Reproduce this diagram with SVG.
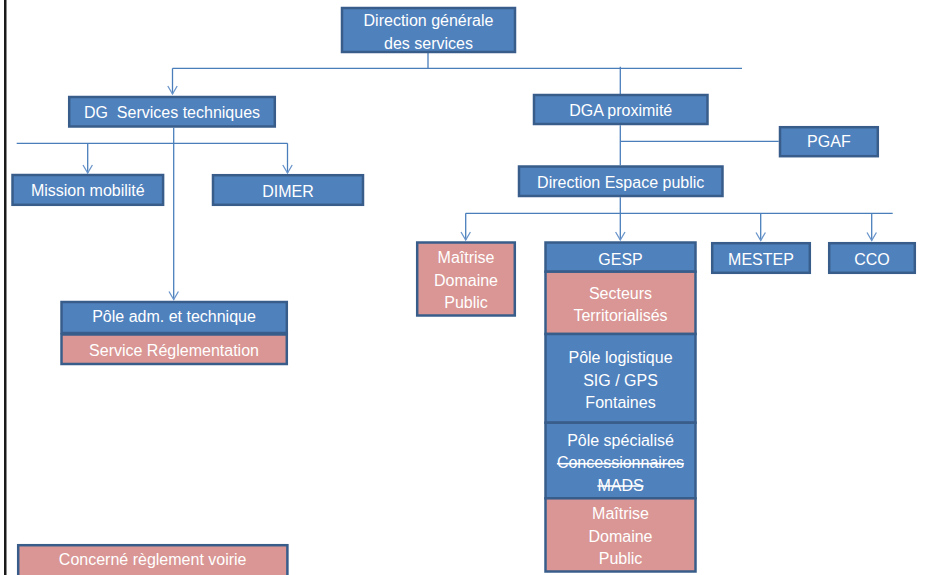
<svg xmlns="http://www.w3.org/2000/svg" width="952" height="575" viewBox="0 0 952 575">
<defs>
<style>
.b{fill:#4F81BD;stroke:#385D8A;stroke-width:2.5}
.p{fill:#D99694;stroke:#385D8A;stroke-width:2.5}
text{font-family:"Liberation Sans",Arial,sans-serif;font-size:16px;fill:#FFFFFF;text-anchor:middle}
.s{text-decoration:line-through}
.c{stroke:#4A7EBB;stroke-width:1.3;fill:none}
</style>
<marker id="ar" markerUnits="userSpaceOnUse" markerWidth="12" markerHeight="12" viewBox="-10 -6 12 12" refX="0" refY="0" orient="auto" overflow="visible">
<path d="M-8,-4.7 L0,0 L-8,4.7" fill="none" stroke="#6A95CB" stroke-width="1.3"/>
</marker>
</defs>
<rect width="952" height="575" fill="#FFFFFF"/>
<rect x="4" y="0" width="2.5" height="575" fill="#1A1A1A"/>
<g id="connectors">
<line class="c" x1="428" y1="52.7" x2="428" y2="68.3"/>
<line class="c" x1="172.5" y1="68.3" x2="742" y2="68.3"/>
<line class="c" x1="172.5" y1="68.3" x2="172.5" y2="94" marker-end="url(#ar)"/>
<line class="c" x1="620.3" y1="66.7" x2="620.3" y2="94"/>
<line class="c" x1="173.7" y1="127.7" x2="173.7" y2="299.5" marker-end="url(#ar)"/>
<line class="c" x1="16.7" y1="143.3" x2="287.5" y2="143.3"/>
<line class="c" x1="87.7" y1="143.3" x2="87.7" y2="173" marker-end="url(#ar)"/>
<line class="c" x1="287.5" y1="143.3" x2="287.5" y2="173" marker-end="url(#ar)"/>
<line class="c" x1="620.3" y1="125.3" x2="620.3" y2="165.3"/>
<line class="c" x1="620.3" y1="141.3" x2="778.7" y2="141.3"/>
<line class="c" x1="620.3" y1="197.3" x2="620.3" y2="240" marker-end="url(#ar)"/>
<line class="c" x1="465.7" y1="213.3" x2="892.7" y2="213.3"/>
<line class="c" x1="465.7" y1="213.3" x2="465.7" y2="240" marker-end="url(#ar)"/>
<line class="c" x1="760.7" y1="213.3" x2="760.7" y2="240.5" marker-end="url(#ar)"/>
<line class="c" x1="871.7" y1="213.3" x2="871.7" y2="240.5" marker-end="url(#ar)"/>
</g>
<g id="dgs">
<rect class="b" x="342" y="8" width="173" height="44"/>
<text x="428.5" y="25.7">Direction générale</text>
<text x="428.5" y="48.8">des services</text>
</g>
<g id="dgst">
<rect class="b" x="69.2" y="97" width="205.6" height="29.5"/>
<text x="172" y="118.2" xml:space="preserve">DG  Services techniques</text>
</g>
<g id="mission">
<rect class="b" x="12.5" y="175" width="150.6" height="29.8"/>
<text x="87.8" y="195.6">Mission mobilité</text>
</g>
<g id="dimer">
<rect class="b" x="213" y="175.2" width="150" height="29.6"/>
<text x="288" y="196.5">DIMER</text>
</g>
<g id="pole-adm">
<rect class="b" x="61.5" y="302" width="225.3" height="31"/>
<text x="174" y="322.4">Pôle adm. et technique</text>
<rect class="p" x="61.5" y="334.5" width="225.3" height="29.5"/>
<text x="174" y="355.8">Service Réglementation</text>
</g>
<g id="concerne">
<rect class="p" x="18.2" y="545.2" width="269.2" height="40"/>
<text x="152.7" y="565">Concerné règlement voirie</text>
</g>
<g id="dga">
<rect class="b" x="534" y="95" width="173.5" height="29"/>
<text x="620.7" y="115.6">DGA proximité</text>
</g>
<g id="pgaf">
<rect class="b" x="780" y="127.2" width="97.8" height="29"/>
<text x="828.9" y="147">PGAF</text>
</g>
<g id="dep">
<rect class="b" x="519" y="166.5" width="203.5" height="29.5"/>
<text x="620.7" y="187.6">Direction Espace public</text>
</g>
<g id="maitrise">
<rect class="p" x="417.2" y="242.5" width="97.6" height="73"/>
<text x="466" y="263">Maîtrise</text>
<text x="466" y="285.6">Domaine</text>
<text x="466" y="307.8">Public</text>
</g>
<g id="gesp">
<rect class="b" x="545.5" y="242.5" width="150" height="29.2"/>
<text x="620.5" y="264.6">GESP</text>
<rect class="p" x="545.5" y="271.7" width="150" height="62.3"/>
<text x="620.5" y="299.4">Secteurs</text>
<text x="620.5" y="321.4">Territorialisés</text>
<rect class="b" x="545.5" y="334" width="150" height="88.7"/>
<text x="620.5" y="363">Pôle logistique</text>
<text x="620.5" y="386">SIG / GPS</text>
<text x="620.5" y="408.4">Fontaines</text>
<rect class="b" x="545.5" y="422.7" width="150" height="75.6"/>
<text x="620.5" y="446.4">Pôle spécialisé</text>
<text class="s" x="620.5" y="468.4">Concessionnaires</text>
<text class="s" x="620.5" y="490.7">MADS</text>
<rect class="p" x="545.5" y="498.3" width="150" height="73.2"/>
<text x="620.5" y="519">Maîtrise</text>
<text x="620.5" y="542.4">Domaine</text>
<text x="620.5" y="564">Public</text>
</g>
<g id="mestep">
<rect class="b" x="712.2" y="243.2" width="97.6" height="29.6"/>
<text x="761" y="265">MESTEP</text>
</g>
<g id="cco">
<rect class="b" x="829.2" y="243.2" width="85.6" height="29.6"/>
<text x="872" y="265">CCO</text>
</g>
</svg>
